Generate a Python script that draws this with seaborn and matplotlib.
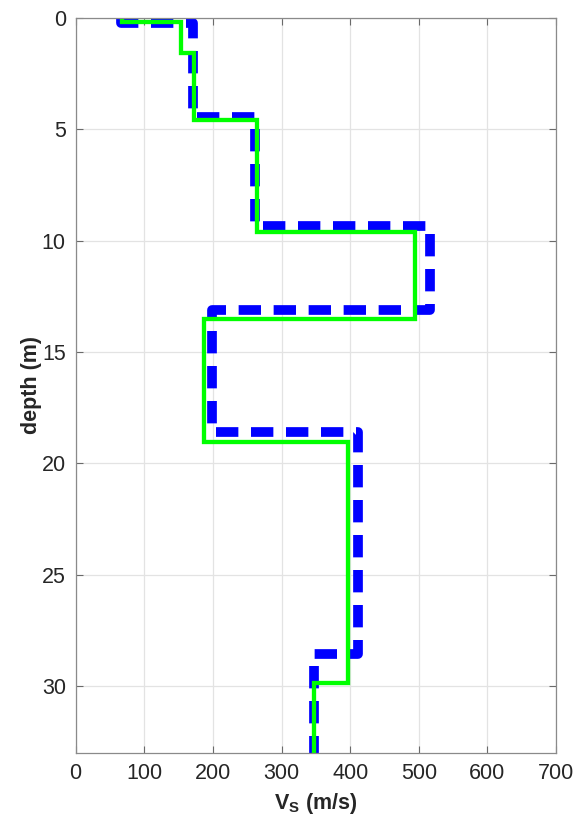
import matplotlib
matplotlib.use("Agg")
import matplotlib.pyplot as plt
import numpy as np
import pandas as pd
import seaborn as sns

# Layered shear-wave velocity profiles (layer boundaries in m, Vs in m/s)
blue_bounds = [0.0, 0.25, 4.45, 9.35, 13.1, 18.6, 28.55, 33.0]
blue_vs = [66, 171, 261, 517, 199, 411, 347]

green_bounds = [0.0, 0.2, 1.6, 4.6, 9.6, 13.5, 19.05, 29.85, 33.0]
green_vs = [68, 154, 173, 264, 495, 187, 397, 347]

x_ticks = [0, 100, 200, 300, 400, 500, 600, 700]
y_ticks = [0, 5, 10, 15, 20, 25, 30]


def step_profile(bounds, vs):
    depth, vel = [], []
    for i, v in enumerate(vs):
        depth += [bounds[i], bounds[i + 1]]
        vel += [v, v]
    return pd.DataFrame({"Vs": vel, "depth": depth})


sns.set_theme(style="white")
plt.rcParams["font.family"] = ["Liberation Sans", "DejaVu Sans"]
plt.rcParams["mathtext.fontset"] = "custom"
plt.rcParams["mathtext.bf"] = "Liberation Sans:bold"
plt.rcParams["mathtext.rm"] = "Liberation Sans"

fig = plt.figure(figsize=(5.86, 8.23), dpi=100)
ax = fig.add_axes([0.129, 0.085, 0.820, 0.8935])

blue = step_profile(blue_bounds, blue_vs)
green = step_profile(green_bounds, green_vs)

sns.lineplot(data=blue, x="Vs", y="depth", sort=False, estimator=None,
             color="#0000ff", linewidth=7.0, ax=ax)
sns.lineplot(data=green, x="Vs", y="depth", sort=False, estimator=None,
             color="#00ff00", linewidth=3.1, ax=ax)

bl, gl = ax.lines[0], ax.lines[1]
bl.set_dashes((2.3, 1.3))
bl.set_dash_capstyle("butt")
bl.set_solid_joinstyle("round")
bl.set_dash_joinstyle("round")
gl.set_solid_joinstyle("miter")

ax.set_xlim(0, 700)
ax.set_ylim(33, 0)
ax.set_xticks(x_ticks)
ax.set_yticks(y_ticks)

ax.grid(True, color="#e3e3e3", linewidth=0.9)
ax.set_axisbelow(True)
for s in ax.spines.values():
    s.set_visible(True)
    s.set_color("#8a8a8a")
    s.set_linewidth(0.9)

ax.tick_params(axis="both", which="both", direction="in", length=5,
               width=0.8, color="#6a6a6a", labelsize=15.5,
               labelcolor="#262626", top=True, right=True,
               bottom=True, left=True, pad=7)

ax.set_xlabel(r"$\mathbf{V_S}$ (m/s)", fontsize=15.5, fontweight="bold",
              color="#262626", labelpad=5)
ax.set_ylabel("depth (m)", fontsize=15.5, fontweight="bold",
              color="#262626", labelpad=0)

fig.savefig("out.png", dpi=100, facecolor="white")
